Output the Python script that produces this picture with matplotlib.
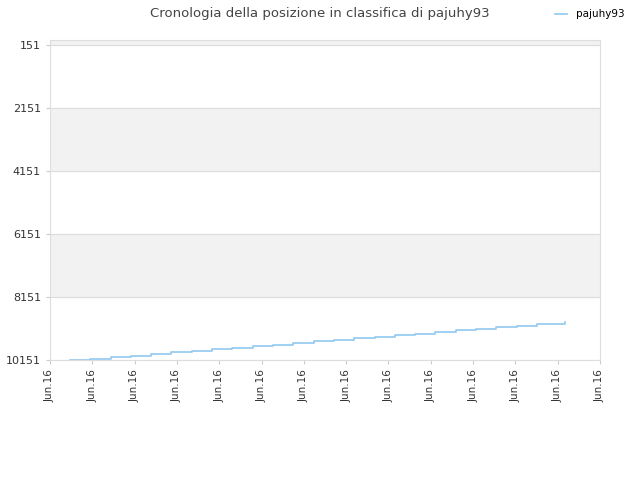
import matplotlib.pyplot as plt

# ranking history (lower rank is better, axis inverted)
positions = [0.47, 0.95, 1.43, 1.91, 2.39, 2.87, 3.35, 3.83, 4.31, 4.79, 5.27, 5.75,
             6.23, 6.71, 7.19, 7.67, 8.15, 8.63, 9.11, 9.59, 10.07, 10.55, 11.03, 11.51, 12.17]
ranks = [10150, 10110, 10060, 10010, 9960, 9910, 9860, 9810, 9760, 9710, 9660, 9610,
         9560, 9510, 9460, 9410, 9360, 9310, 9260, 9210, 9160, 9110, 9060, 9010, 8950]
y_ticks = [151, 2151, 4151, 6151, 8151, 10151]
x_labels = ["Jun.16"] * 14

fig = plt.figure(figsize=(6.4, 4.8), dpi=100)
ax = fig.add_axes([50/640, 120/480, 550/640, 320/480])

# alternating bands
ax.axhspan(-10, 151, color='#f2f2f2', zorder=0)
ax.axhspan(2151, 4151, color='#f2f2f2', zorder=0)
ax.axhspan(6151, 8151, color='#f2f2f2', zorder=0)
for yt in y_ticks:
    ax.axhline(yt, color='#dddddd', lw=0.8, zorder=1)

ax.plot(positions, ranks, drawstyle='steps-post', color='#90c8f0', lw=1.2, label='pajuhy93', zorder=2)

ax.set_ylim(10151, -10)
ax.set_xlim(0, 13)
ax.set_yticks(y_ticks)
ax.set_yticklabels([str(v) for v in y_ticks], fontsize=8, color='#333333')
ax.set_xticks(range(14))
ax.set_xticklabels(x_labels, rotation=90, fontsize=7.5, color='#333333')
ax.tick_params(length=3, color='#cccccc')
for s in ax.spines.values():
    s.set_color('#dddddd')

fig.suptitle('Cronologia della posizione in classifica di pajuhy93', x=0.5, y=0.985,
             fontsize=9.5, color='#444444')
fig.legend(loc='upper right', bbox_to_anchor=(0.99, 1.0), frameon=False, fontsize=7.5,
           handlelength=1.2)
fig.savefig('out.png', dpi=100)
